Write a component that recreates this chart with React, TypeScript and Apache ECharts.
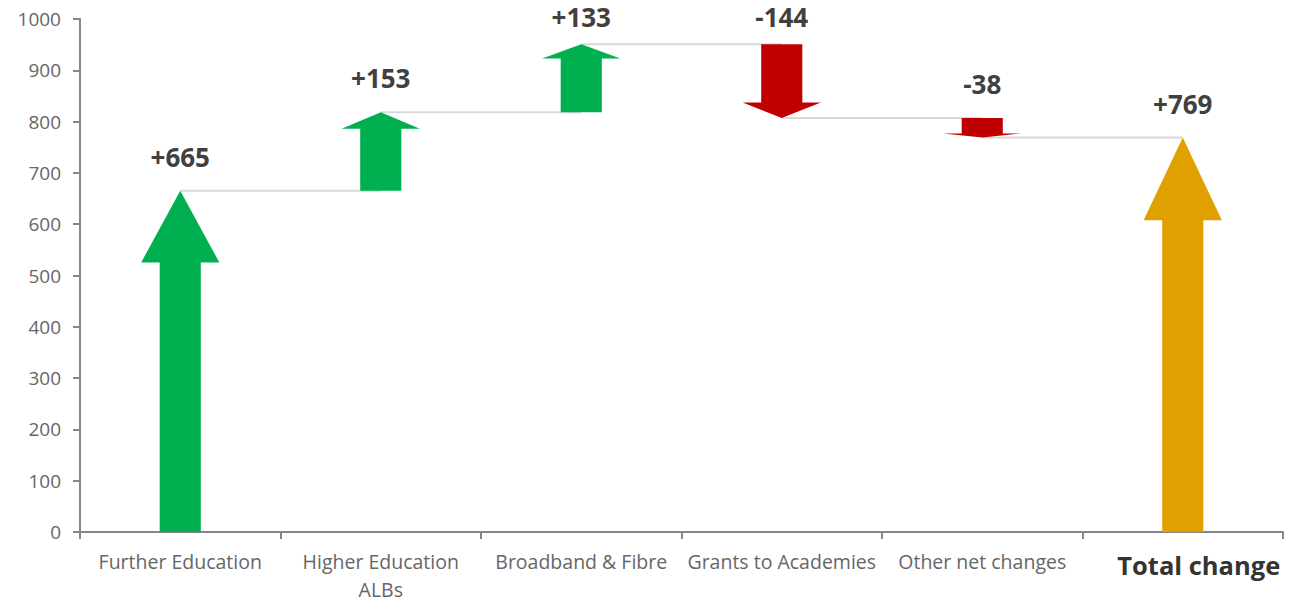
import React, { useEffect, useRef } from "react";
import * as echarts from "echarts";

const categories = [
  "Further Education",
  "Higher Education\nALBs",
  "Broadband & Fibre",
  "Grants to Academies",
  "Other net changes",
  "Total change",
];
const changes = [665, 153, 133, -144, -38];
const totalChange = 769;
const yTicks = { min: 0, max: 1000, interval: 100 };

const GREEN = "#00b050";
const RED = "#c00000";
const GOLD = "#e0a000";

function fmt(v: number) {
  return (v > 0 ? "+" : "") + v;
}

export default function App() {
  const ref = useRef<HTMLDivElement>(null);
  useEffect(() => {
    document.body.style.margin = "0";
    const chart = echarts.init(ref.current!, null, { renderer: "svg" });
    const data: any[] = [];
    let cum = 0;
    changes.forEach((c, i) => {
      const s = cum;
      cum += c;
      data.push({ value: [i, s, cum, 1], label: fmt(c), color: c >= 0 ? GREEN : RED });
    });
    data.push({ value: [changes.length, 0, totalChange, 0], label: fmt(totalChange), color: GOLD });

    const option: any = {
      animation: false,
      grid: { left: 80, right: 14, top: 19, bottom: 67, containLabel: false },
      xAxis: {
        type: "category",
        data: categories,
        axisLine: { lineStyle: { color: "#868686", width: 2 } },
        axisTick: { show: true, length: 7, lineStyle: { color: "#868686", width: 2 } },
        axisLabel: {
          interval: 0,
          margin: 15,
          color: "#666666",
          fontFamily: "Open Sans",
          fontSize: 19.5,
          lineHeight: 28,
          formatter: (v: string) => (v === "Total change" ? "{t|" + v + "}" : v),
          rich: {
            t: {
              fontFamily: "Open Sans",
              fontWeight: "bold",
              fontSize: 25.5,
              color: "#333333",
              lineHeight: 28,
              padding: [8, 0, 0, 32],
            },
          },
        },
      },
      yAxis: {
        type: "value",
        min: yTicks.min,
        max: yTicks.max,
        interval: yTicks.interval,
        splitLine: { show: false },
        axisLine: { show: true, lineStyle: { color: "#868686", width: 2 } },
        axisTick: { show: true, length: 7, lineStyle: { color: "#868686", width: 2 } },
        axisLabel: {
          color: "#666666",
          fontFamily: "Open Sans",
          fontSize: 19,
          margin: 19,
          formatter: (v: number) => String(v),
        },
      },
      series: [
        {
          type: "custom",
          data,
          clip: false,
          renderItem: (params: any, api: any) => {
            const item = data[params.dataIndex];
            const i = api.value(0);
            const s = api.value(1);
            const e = api.value(2);
            const conn = api.value(3);
            const p0 = api.coord([i, s]);
            const p1 = api.coord([i, e]);
            const x = p0[0];
            const y0 = p0[1];
            const y1 = p1[1];
            const band = api.size([1, 0])[0];
            const shaftW = band * 0.205;
            const headW = band * 0.39;
            const dir = Math.sign(y1 - y0);
            const headLen = Math.abs(y1 - y0) * 0.21;
            const yb = y1 - dir * headLen;
            const pts = [
              [x - shaftW / 2, y0],
              [x - shaftW / 2, yb],
              [x - headW / 2, yb],
              [x, y1],
              [x + headW / 2, yb],
              [x + shaftW / 2, yb],
              [x + shaftW / 2, y0],
            ];
            const top = Math.min(y0, y1);
            const children: any[] = [];
            if (conn) {
              const nx = api.coord([i + 1, e])[0];
              children.push({
                type: "line",
                shape: { x1: x, y1: y1, x2: nx, y2: y1 },
                style: { stroke: "#d9d9d9", lineWidth: 2 },
                z2: 0,
              });
            }
            children.push({
              type: "polygon",
              shape: { points: pts },
              style: { fill: item.color },
              z2: 1,
            });
            children.push({
              type: "text",
              x: x,
              y: Math.max(top - 34, 17),
              style: {
                text: item.label,
                fill: "#404040",
                font: "bold 26px 'Open Sans'",
                align: "center",
                verticalAlign: "middle",
              },
              z2: 2,
            });
            return { type: "group", children };
          },
        },
      ],
    };
    chart.setOption(option);
    return () => chart.dispose();
  }, []);
  return <div ref={ref} style={{ width: 1297, height: 603 }} />;
}
